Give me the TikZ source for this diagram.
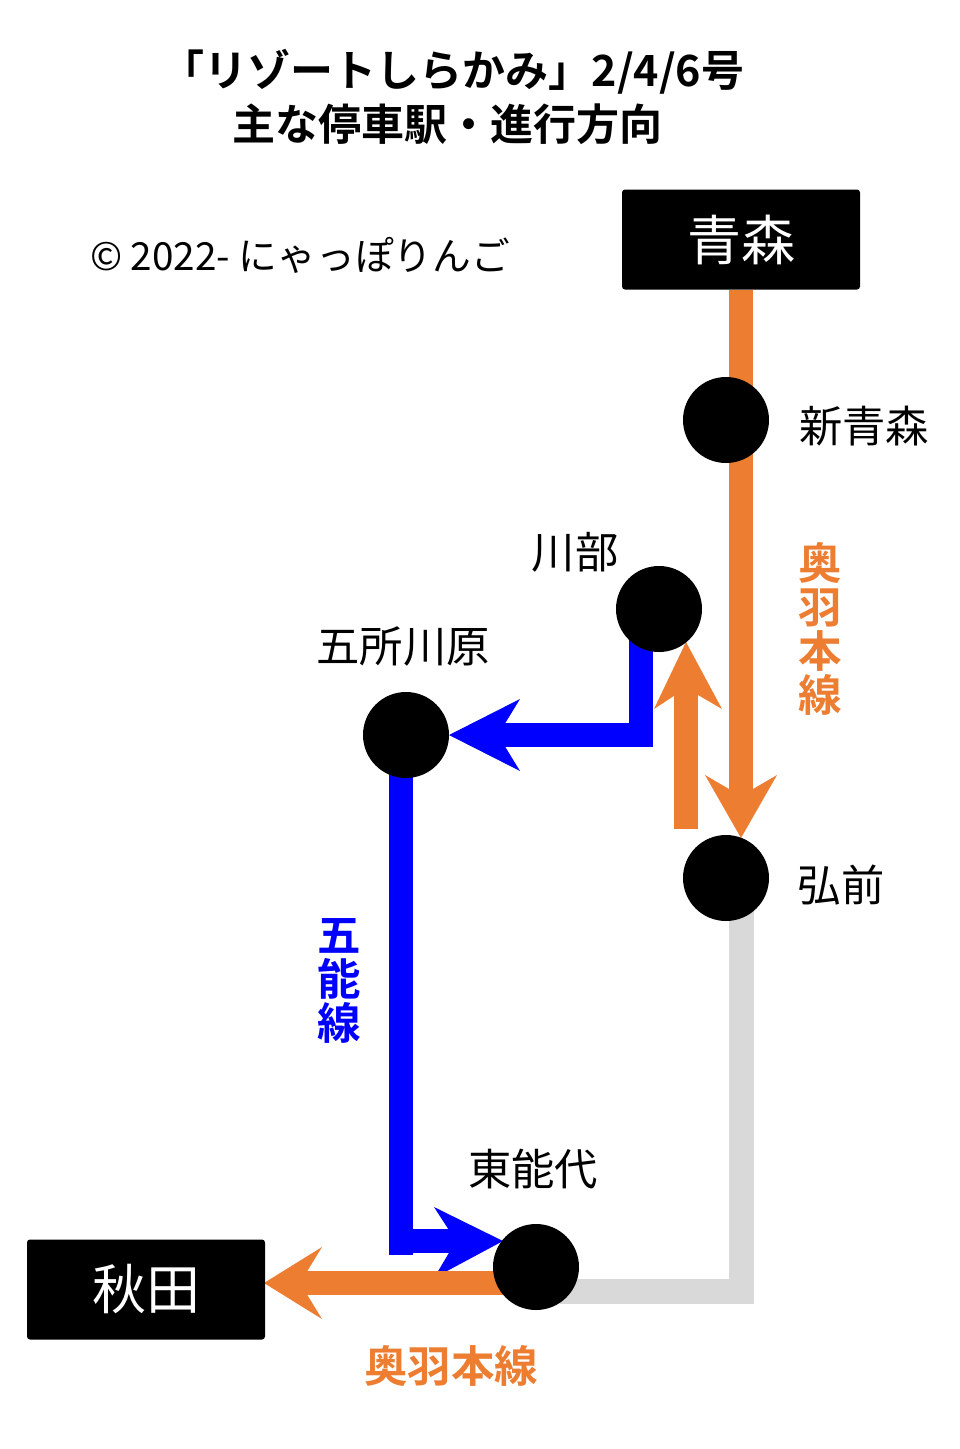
\documentclass[tikz,border=0pt]{standalone}
\usepackage{fontspec}
\setmainfont{Noto Sans CJK JP}
\newfontfamily\jb{Noto Sans CJK JP Bold}
\newfontfamily\jl{Noto Sans CJK JP}
\definecolor{oranged}{HTML}{ED7D31}
\definecolor{greyl}{HTML}{D9D9D9}
\definecolor{blued}{HTML}{0000FF}
\tikzset{x=1pt,y=-1pt,
 stn/.style={circle,fill=black,minimum size=86pt,inner sep=0pt},
 term/.style={fill=black,rounded corners=3pt,minimum width=238pt,minimum height=100pt,text=white,font=\fontsize{54}{54}\selectfont},
 lab/.style={font=\fontsize{43.3}{43}\selectfont,inner sep=0pt},
 ttl/.style={font=\jb\fontsize{43}{43}\selectfont,inner sep=0pt},
 olab/.style={font=\jb\fontsize{43.5}{44}\selectfont,text=oranged,inner sep=0pt,align=center},
 blab/.style={font=\jb\fontsize{43.5}{44}\selectfont,text=blued,inner sep=0pt,align=center},
 line/.style={line width=24pt,line cap=butt}}
\begin{document}
\begin{tikzpicture}
\useasboundingbox (0,0) rectangle (960,1449);
\fill[white] (0,0) rectangle (960,1449);
% grey
\draw[line,greyl,line width=25pt] (741,900) -- (741,1303);
\draw[line,greyl,line width=25pt] (560,1291) -- (754,1291);
% orange main
\draw[line,oranged] (741,290) -- (741,800);
\fill[oranged] (741,838) -- (705,775) -- (741,796) -- (777,775) -- cycle;
\draw[line,oranged] (686,829) -- (686,680);
\fill[oranged] (686,642) -- (722,709) -- (686,688) -- (654,709) -- cycle;
% blue
\draw[line,blued] (641,640) -- (641,747);
\draw[line,blued] (653,735) -- (490,735);
\fill[blued] (449,735) -- (520,699) -- (498,735) -- (520,771) -- cycle;
\draw[line,blued] (401,770) -- (401,1255);
\draw[line,blued] (389,1241) -- (470,1241);
\fill[blued] (503,1241) -- (434,1207) -- (456,1241) -- (434,1278) -- cycle;
% orange bottom
\draw[line,oranged] (510,1283) -- (300,1283);
\fill[oranged] (264,1283) -- (322,1247) -- (300,1283) -- (322,1319) -- cycle;
% nodes
\node[stn] (shin) at (726,420) {};
\node[stn] (kawabe) at (659,609) {};
\node[stn] (gosho) at (406,735) {};
\node[stn] (hiro) at (726,878) {};
\node[stn] (higa) at (536,1267) {};
\node[term] (ao) at (741,239.5) {青森};
\node[term] (aki) at (146,1289.5) {秋田};
\node[ttl] (t1) at (453,72) {「リゾートしらかみ」2/4/6号};
\node[ttl] (t2) at (447,124) {主な停車駅・進行方向};
\node[lab,font=\fontsize{38.7}{38}\selectfont] (c) at (300,255) {© 2022- にゃっぽりんご};
\node[lab] (l1) at (864,426) {新青森};
\node[lab] (l2) at (575,552) {川部};
\node[lab] (l3) at (403,646) {五所川原};
\node[lab] (l4) at (841,885) {弘前};
\node[lab] (l5) at (533,1169) {東能代};
\node[olab] (o1) at (820,629) {奥\\羽\\本\\線};
\node[blab] (b1) at (339,981) {五\\能\\線};
\node[olab] (o2) at (451,1366) {奥羽本線};
\end{tikzpicture}
\end{document}
